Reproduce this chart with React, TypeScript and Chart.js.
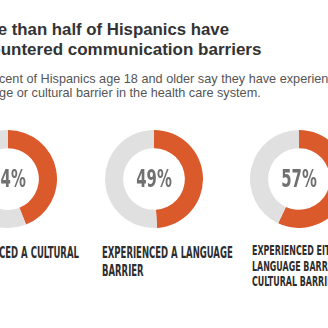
import React, { useEffect, useRef } from "react";
import { Chart, registerables } from "chart.js";

Chart.register(...registerables);

const TITLE_LINES = ["More than half of Hispanics have", "encountered communication barriers"];
const SUBTITLE_LINES = [
  "57 percent of Hispanics age 18 and older say they have experienced a",
  "language or cultural barrier in the health care system.",
];
const CATEGORIES = [
  ["EXPERIENCED A CULTURAL", "BARRIER"],
  ["EXPERIENCED A LANGUAGE", "BARRIER"],
  ["EXPERIENCED EITHER A", "LANGUAGE BARRIER OR", "CULTURAL BARRIER"],
];
const PERCENTS = [44, 49, 57];
const REMAINDERS = PERCENTS.map((v) => 100 - v);

const ORANGE = "#db5a2c";
const GRAY = "#e0e0e0";

// layout (px)
const DONUT_CENTERS_X = [8, 154, 299];
const DONUT_CENTER_Y = 179;
const DONUT_SIZE = 98;
const LABEL_LEFT = [-48, 102, 252];
const LABEL_TOP = [245, 245, 243];
const LABEL_FONT = [15, 15, 14];
const LABEL_LH = [17.5, 17.5, 15.5];
const LABEL_SCALE = 0.63;

const centerText = {
  id: "centerText",
  afterDraw(chart: any, _args: any, opts: any) {
    const { ctx, chartArea } = chart;
    const cx = (chartArea.left + chartArea.right) / 2;
    const cy = (chartArea.top + chartArea.bottom) / 2;
    ctx.save();
    ctx.translate(cx, cy + 1);
    ctx.scale(0.66, 1);
    ctx.font = 'bold 25px "Liberation Sans Narrow", "DejaVu Sans Condensed", sans-serif';
    ctx.fillStyle = "#707070";
    ctx.textAlign = "center";
    ctx.textBaseline = "middle";
    ctx.fillText(opts.text, 0, 0);
    ctx.restore();
  },
};

function Donut({ index }: { index: number }) {
  const ref = useRef<HTMLCanvasElement>(null);
  useEffect(() => {
    if (!ref.current) return;
    const chart = new Chart(ref.current, {
      type: "doughnut",
      data: {
        labels: ["Yes", "No"],
        datasets: [
          {
            data: [PERCENTS[index], REMAINDERS[index]],
            backgroundColor: [ORANGE, GRAY],
            borderWidth: 0,
          },
        ],
      },
      options: {
        responsive: false,
        animation: false,
        cutout: "63%",
        layout: { padding: 0 },
        plugins: {
          legend: { display: false },
          tooltip: { enabled: false },
          centerText: { text: PERCENTS[index] + "%" },
        } as any,
      },
      plugins: [centerText],
    });
    return () => chart.destroy();
  }, [index]);
  return (
    <canvas
      ref={ref}
      width={DONUT_SIZE}
      height={DONUT_SIZE}
      style={{
        position: "absolute",
        left: DONUT_CENTERS_X[index] - DONUT_SIZE / 2,
        top: DONUT_CENTER_Y - DONUT_SIZE / 2,
        width: DONUT_SIZE,
        height: DONUT_SIZE,
      }}
    />
  );
}

export default function App() {
  return (
    <div
      style={{
        position: "fixed",
        left: 0,
        top: 0,
        width: 328,
        height: 328,
        overflow: "hidden",
        background: "#fff",
        fontFamily: '"Liberation Sans", Arial, sans-serif',
      }}
    >
      <div style={{ position: "absolute", left: -33, top: 20, fontSize: 16.8, lineHeight: "20px", fontWeight: "bold", color: "#333", whiteSpace: "pre" }}>
        {TITLE_LINES[0]}
      </div>
      <div style={{ position: "absolute", left: -39, top: 40, fontSize: 17, lineHeight: "20px", fontWeight: "bold", color: "#333", whiteSpace: "pre" }}>
        {TITLE_LINES[1]}
      </div>
      <div style={{ position: "absolute", left: -37, top: 73, fontSize: 12.7, lineHeight: "13.7px", color: "#555", whiteSpace: "pre" }}>
        {SUBTITLE_LINES[0]}
      </div>
      <div style={{ position: "absolute", left: -39, top: 86.7, fontSize: 12.7, lineHeight: "13.7px", color: "#555", whiteSpace: "pre" }}>
        {SUBTITLE_LINES[1]}
      </div>
      {PERCENTS.map((_, i) => (
        <Donut key={i} index={i} />
      ))}
      {CATEGORIES.map((lines, i) => (
        <div
          key={i}
          style={{
            position: "absolute",
            left: LABEL_LEFT[i],
            top: LABEL_TOP[i],
            fontFamily: '"Liberation Sans Narrow", "DejaVu Sans Condensed", sans-serif',
            fontWeight: "bold",
            fontSize: LABEL_FONT[i],
            lineHeight: LABEL_LH[i] + "px",
            color: "#2e2e2e",
            whiteSpace: "pre",
            transform: `scaleX(${LABEL_SCALE})`,
            transformOrigin: "0 0",
          }}
        >
          {lines.join("\n")}
        </div>
      ))}
    </div>
  );
}
